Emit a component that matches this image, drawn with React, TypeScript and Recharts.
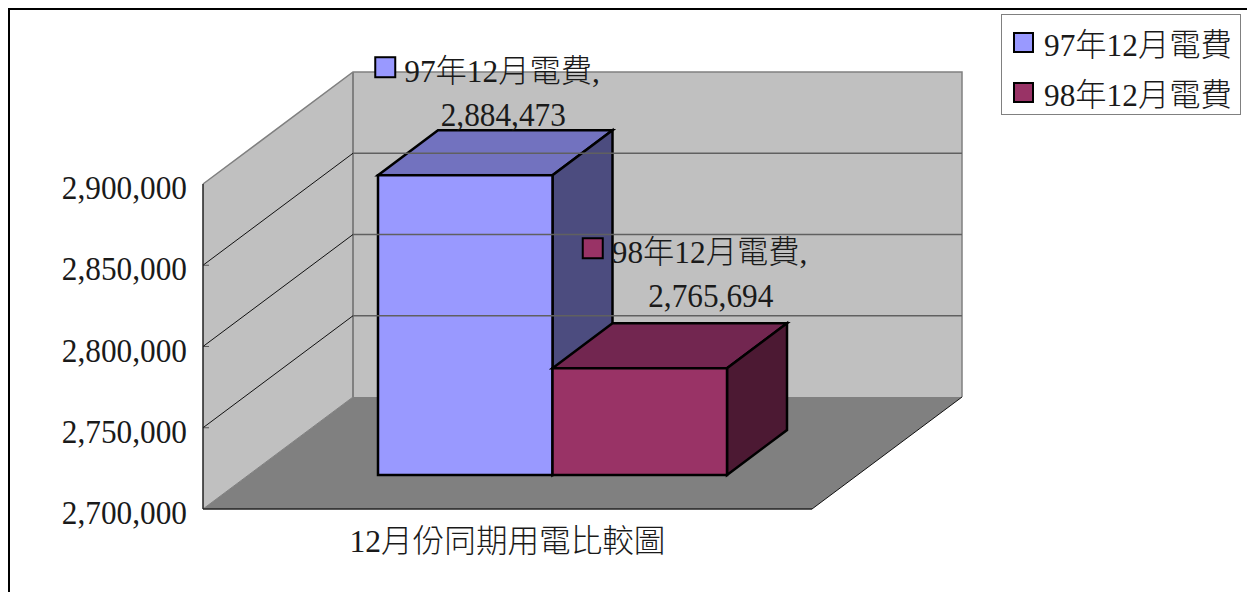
import { BarChart, Bar, XAxis, YAxis, Legend, ReferenceArea, ReferenceLine, LabelList } from 'recharts';

const categories = ['12月份同期用電比較圖'];
const series97 = [2884473];
const series98 = [2765694];
const yTicks = [2700000, 2750000, 2800000, 2850000, 2900000];
const seriesNames = ['97年12月電費', '98年12月電費'];

const chartData = categories.map((name, i) => ({
  name,
  [seriesNames[0]]: series97[i],
  [seriesNames[1]]: series98[i],
}));

const FONT = "'Liberation Serif', 'Noto Sans CJK TC', serif";
const FONT_SIZE = 31.3;
const TEXT = '#1a1a1a';
const DIGIT_STRETCH = 1.1; // the original font has taller digits

// fake 3d projection
const WALL_DX = 150;
const WALL_DY = -112;
const BAR_SHIFT_X = 45;
const BAR_SHIFT_Y = -34;
const BAR_DX = 60;
const BAR_DY = -45;

const pts = (...p: number[][]) => p.map(a => a.join(',')).join(' ');
const fmtNum = (v: number) => Number(v).toLocaleString('en-US');

function Walls({ x, y, width, height }: any) {
  const r = x + width;
  const b = y + height;
  return (
    <g>
      <polygon points={pts([x, y], [x + WALL_DX, y + WALL_DY], [x + WALL_DX, b + WALL_DY], [x, b])} fill="#C0C0C0" />
      <rect x={x + WALL_DX} y={y + WALL_DY} width={width} height={height} fill="#C0C0C0" />
      <polygon points={pts([x, b], [x + WALL_DX, b + WALL_DY], [r + WALL_DX, b + WALL_DY], [r, b])} fill="#808080" />
      <polyline
        points={pts([x, y], [x + WALL_DX, y + WALL_DY], [r + WALL_DX, y + WALL_DY], [r + WALL_DX, b + WALL_DY])}
        fill="none" stroke="#808080" strokeWidth={1.5}
      />
      <line x1={x + WALL_DX} y1={y + WALL_DY} x2={x + WALL_DX} y2={b + WALL_DY} stroke="#808080" strokeWidth={2} />
      <line x1={x} y1={b} x2={x + WALL_DX} y2={b + WALL_DY} stroke="#808080" strokeWidth={1} />
      <line x1={r} y1={b} x2={r + WALL_DX} y2={b + WALL_DY} stroke="#111" strokeWidth={1} />
    </g>
  );
}

function GridShape({ x1, y1, x2, y2 }: any) {
  return (
    <g>
      <line x1={x1} y1={y1} x2={x1 + 6} y2={y1} stroke="#555" strokeWidth={1} />
      <line x1={x1} y1={y1} x2={x1 + WALL_DX} y2={y1 + WALL_DY} stroke="#111" strokeWidth={1} />
      <line x1={x1 + WALL_DX} y1={y1 + WALL_DY} x2={x2 + WALL_DX} y2={y2 + WALL_DY} stroke="#606060" strokeWidth={1.5} />
    </g>
  );
}

function Box3D({ x, y, width, height, fill, topFill, sideFill }: any) {
  const fx = x + BAR_SHIFT_X;
  const fy = y + BAR_SHIFT_Y;
  const r = fx + width;
  const b = fy + height;
  return (
    <g stroke="#000" strokeWidth={2.5} strokeLinejoin="miter">
      <polygon points={pts([fx, fy], [fx + BAR_DX, fy + BAR_DY], [r + BAR_DX, fy + BAR_DY], [r, fy])} fill={topFill} />
      <polygon points={pts([r, fy], [r + BAR_DX, fy + BAR_DY], [r + BAR_DX, b + BAR_DY], [r, b])} fill={sideFill} />
      <rect x={fx} y={fy} width={width} height={height} fill={fill} />
    </g>
  );
}

function TallNumber({ x, y, anchor, children }: any) {
  return (
    <text
      transform={`translate(${x} ${y}) scale(1 ${DIGIT_STRETCH})`}
      textAnchor={anchor}
      fontFamily={FONT}
      fontSize={FONT_SIZE}
      fill={TEXT}
    >
      {children}
    </text>
  );
}

function YTick({ x, y, payload }: any) {
  return <TallNumber x={x} y={y + 15} anchor="end">{fmtNum(payload.value)}</TallNumber>;
}

function DataLabel({ x, width, y, value, name, fill, keyX, l1, l2, valueX }: any) {
  const cx = x + width / 2;
  return (
    <g>
      <rect x={cx + keyX} y={y + l1 - 25} width={20} height={20} fill={fill} stroke="#000" strokeWidth={2} />
      <text x={cx + keyX + 29} y={y + l1} fontFamily={FONT} fontSize={FONT_SIZE} fill={TEXT} fontWeight={300}>{name},</text>
      <TallNumber x={cx + valueX} y={y + l2} anchor="middle">{fmtNum(value)}</TallNumber>
    </g>
  );
}

function LegendBox({ payload }: any) {
  return (
    <div style={{
      width: 240, height: 101, boxSizing: 'border-box', background: '#fff', border: '1.5px solid #808080',
      fontFamily: FONT, fontSize: FONT_SIZE, fontWeight: 300, color: TEXT, paddingTop: 2,
    }}>
      {(payload ?? []).map((p: any) => (
        <div key={p.value} style={{ display: 'flex', alignItems: 'center', height: 50, paddingLeft: 11, whiteSpace: 'nowrap' }}>
          <span style={{ width: 17, height: 17, marginRight: 10, background: p.color, border: '2px solid #000', display: 'inline-block' }} />
          {p.value}
        </div>
      ))}
    </div>
  );
}

export default function App() {
  return (
    <div style={{ position: 'fixed', left: 8, top: 8, width: 1239, height: 584, maxWidth: 'none', overflow: 'hidden' }}>
      <BarChart
        width={1239}
        height={584}
        data={chartData}
        margin={{ top: 176, right: 435, bottom: 0, left: 0 }}
        barCategoryGap={130}
        barGap={0}
        style={{ background: '#fff' }}
      >
        <XAxis
          dataKey="name"
          tickLine={false}
          axisLine={{ stroke: '#222', strokeWidth: 1.5 }}
          tick={{ fontFamily: FONT, fontSize: 31.6, fontWeight: 300, fill: TEXT }}
          tickMargin={15}
          height={83}
          interval={0}
        />
        <YAxis
          type="number"
          domain={[2700000, 2900000]}
          ticks={yTicks}
          width={195}
          tickLine={false}
          tickSize={0}
          tickMargin={16}
          axisLine={{ stroke: '#222', strokeWidth: 1.5 }}
          tick={<YTick />}
        />
        <ReferenceArea y1={2700000} y2={2900000} shape={<Walls />} ifOverflow="visible" />
        {yTicks.slice(1, 4).map(t => (
          <ReferenceLine key={t} y={t} shape={<GridShape />} ifOverflow="visible" />
        ))}
        <Legend
          layout="horizontal"
          verticalAlign="middle"
          align="center"
          content={<LegendBox />}
          wrapperStyle={{ left: 993, top: 6, width: 240, height: 101 }}
        />
        <Bar
          dataKey={seriesNames[0]}
          fill="#9999FF"
          barSize={174.5}
          isAnimationActive={false}
          shape={(p: any) => <Box3D {...p} fill="#9999FF" topFill="#7272BF" sideFill="#4C4C7F" />}
        >
          <LabelList
            dataKey={seriesNames[0]}
            content={(p: any) => <DataLabel {...p} name={seriesNames[0]} fill="#9999FF" keyX={-45} valueX={83} l1={-127} l2={-83} />}
          />
        </Bar>
        <Bar
          dataKey={seriesNames[1]}
          fill="#993366"
          barSize={174.5}
          isAnimationActive={false}
          shape={(p: any) => <Box3D {...p} fill="#993366" topFill="#722650" sideFill="#4C1933" />}
        >
          <LabelList
            dataKey={seriesNames[1]}
            content={(p: any) => <DataLabel {...p} name={seriesNames[1]} fill="#993366" keyX={-12} valueX={116} l1={-139} l2={-95} />}
          />
        </Bar>
      </BarChart>
      <div style={{ position: 'absolute', left: 0, top: 0, width: 1239, height: 584, boxSizing: 'border-box', borderLeft: '2px solid #000', borderTop: '2px solid #000', pointerEvents: 'none' }} />
    </div>
  );
}
